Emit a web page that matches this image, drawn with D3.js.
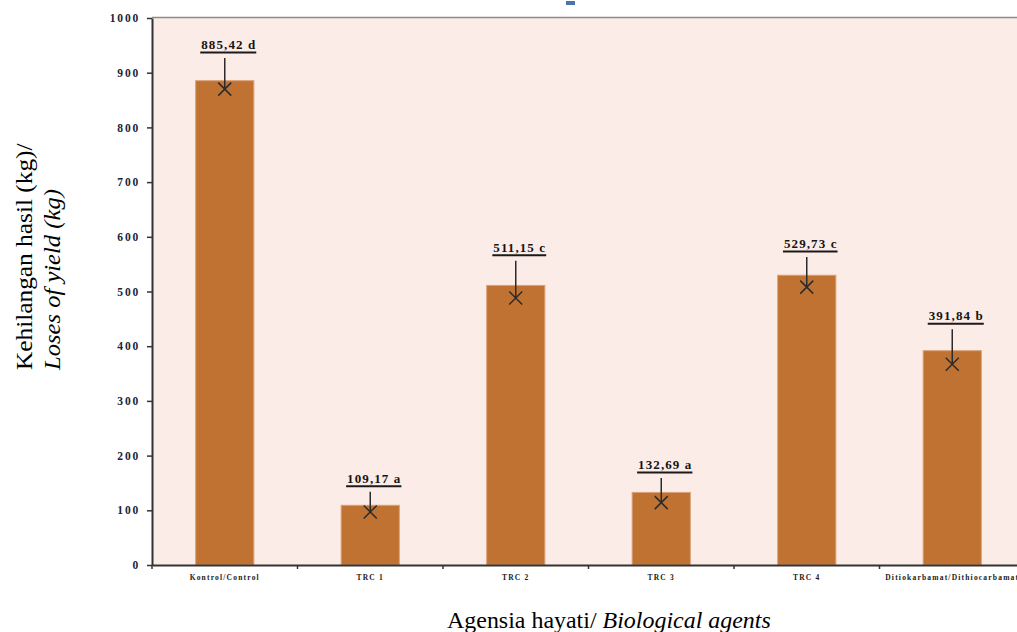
<!DOCTYPE html>
<html>
<head>
<meta charset="utf-8">
<script src="https://cdn.jsdelivr.net/npm/d3@7"></script>
<style>
  body { margin: 0; background: #fff; }
  svg { display: block; }
</style>
</head>
<body>
<svg id="chart" width="1017" height="632"></svg>
<script>
// data
var categories = ['Kontrol/Control', 'TRC 1', 'TRC 2', 'TRC 3', 'TRC 4', 'Ditiokarbamat/Dithiocarbamat']
var means = [885.42, 109.17, 511.15, 132.69, 529.73, 391.84]
var markers = [870, 97, 488, 114, 508, 367]
var errTops = [927, 134, 556, 159, 563, 431]
var letters = ['d', 'a', 'c', 'a', 'c', 'b']
var yTicks = [0, 100, 200, 300, 400, 500, 600, 700, 800, 900, 1000]

var svg = d3.select('#chart')
  , pLeft = 152
  , pRight = 1025
  , pTop = 18
  , pBottom = 565

var x = d3.scaleBand()
  .domain(categories)
  .range([pLeft, pRight])
  .paddingInner(0.6)
  .paddingOuter(0.3)

var y = d3.scaleLinear()
  .domain([0, 1000])
  .range([pBottom, pTop])

var data = categories.map(function (c, i) {
  return { cat: c, mean: means[i], mark: markers[i], top: errTops[i], letter: letters[i] }
})

//plot background
svg.append('rect')
  .attr('x', pLeft).attr('y', pTop)
  .attr('width', pRight - pLeft).attr('height', pBottom - pTop)
  .attr('fill', '#fcece7')

svg.append('line')
  .attr('x1', pLeft).attr('x2', pRight)
  .attr('y1', pTop - 0.5).attr('y2', pTop - 0.5)
  .attr('stroke', '#8a8a8a').attr('stroke-width', 1.5)

//cropped title remnant
svg.append('rect')
  .attr('x', 566).attr('y', 1).attr('width', 9).attr('height', 4)
  .attr('fill', '#4d74a6')

//bars
svg.append('g').selectAll('rect')
  .data(data)
  .enter()
  .append('rect')
  .attr('x', function (d) { return x(d.cat) })
  .attr('y', function (d) { return y(d.mean) })
  .attr('width', x.bandwidth())
  .attr('height', function (d) { return pBottom - y(d.mean) })
  .attr('fill', '#c07232')
  .attr('stroke', '#d9a27a')
  .attr('stroke-width', 1)

//error lines and X markers
var err = svg.append('g').selectAll('g')
  .data(data)
  .enter()
  .append('g')
  .attr('stroke', '#2b2b2b')
  .attr('stroke-width', 1.5)

err.append('line')
  .attr('x1', function (d) { return x(d.cat) + x.bandwidth() / 2 })
  .attr('x2', function (d) { return x(d.cat) + x.bandwidth() / 2 })
  .attr('y1', function (d) { return y(d.top) })
  .attr('y2', function (d) { return y(d.mark) })

err.append('path')
  .attr('d', function (d) {
    var cx = x(d.cat) + x.bandwidth() / 2, cy = y(d.mark), s = 6.5
    return 'M' + (cx - s) + ',' + (cy - s) + 'L' + (cx + s) + ',' + (cy + s) +
      'M' + (cx - s) + ',' + (cy + s) + 'L' + (cx + s) + ',' + (cy - s)
  })
  .attr('fill', 'none')

//value labels, underlined
var lab = svg.append('g').selectAll('g')
  .data(data)
  .enter()
  .append('g')

lab.append('text')
  .attr('x', function (d) { return x(d.cat) + x.bandwidth() / 2 + 4 })
  .attr('y', function (d) { return y(d.top) - 9 })
  .attr('text-anchor', 'middle')
  .attr('font-family', 'Liberation Serif, serif')
  .attr('font-weight', 'bold')
  .attr('font-size', 13)
  .attr('letter-spacing', 1.1)
  .attr('fill', '#141414')
  .text(function (d) { return d3.format('.2f')(d.mean).replace('.', ',') + ' ' + d.letter })
  .each(function (d) {
    var b = this.getBBox()
    d3.select(this.parentNode).append('line')
      .attr('x1', b.x - 1).attr('x2', b.x + b.width)
      .attr('y1', b.y + b.height + 0.5).attr('y2', b.y + b.height + 0.5)
      .attr('stroke', '#1a1a1a').attr('stroke-width', 2)
  })

//y axis
var yAxis = svg.append('g')
  .attr('transform', 'translate(' + pLeft + ',0)')
  .call(d3.axisLeft(y).tickValues(yTicks).tickSize(5).tickSizeOuter(0).tickFormat(d3.format('d')))

yAxis.select('.domain').attr('stroke', '#333').attr('stroke-width', 2)
yAxis.selectAll('.tick line').attr('stroke', '#333').attr('stroke-width', 1.5)
yAxis.selectAll('.tick text')
  .attr('x', -12)
  .attr('font-family', 'Liberation Serif, serif')
  .attr('font-weight', 'bold')
  .attr('font-size', 11.5)
  .attr('letter-spacing', 1.8)
  .attr('fill', '#18243a')

//x axis
var xAxis = svg.append('g')
  .attr('transform', 'translate(0,' + pBottom + ')')
  .call(d3.axisBottom(x).tickSize(0).tickSizeOuter(0))

xAxis.select('.domain').attr('stroke', '#333').attr('stroke-width', 2)
xAxis.selectAll('.tick text')
  .attr('y', 10)
  .attr('font-family', 'Liberation Serif, serif')
  .attr('font-weight', 'bold')
  .attr('font-size', 7.5)
  .attr('letter-spacing', 1.2)
  .attr('fill', '#1a1a1a')

var step = x.step()
xAxis.selectAll('.sep')
  .data(d3.range(categories.length + 1))
  .enter()
  .append('line')
  .attr('x1', function (i) { return pLeft + i * step })
  .attr('x2', function (i) { return pLeft + i * step })
  .attr('y1', 0).attr('y2', 4)
  .attr('stroke', '#333').attr('stroke-width', 1.5)

//axis titles, stretched to the reference widths
function fit (sel, tx, ty, rot, len) {
  var w = sel.node().getBBox().width
  sel.attr('transform', 'translate(' + tx + ',' + ty + ') rotate(' + rot + ') scale(' + (len / w) + ',1)')
}

var yt1 = svg.append('text')
  .attr('font-family', 'Liberation Serif, serif')
  .attr('font-size', 24)
  .attr('fill', '#000')
  .text('Kehilangan hasil (kg)/')
fit(yt1, 32, 370, -90, 227)

var yt2 = svg.append('text')
  .attr('font-family', 'Liberation Serif, serif')
  .attr('font-size', 24)
  .attr('font-style', 'italic')
  .attr('fill', '#000')
  .text('Loses of yield (kg)')
fit(yt2, 60, 370, -90, 182)

var xt = svg.append('text')
  .attr('font-family', 'Liberation Serif, serif')
  .attr('font-size', 23)
  .attr('fill', '#000')
xt.append('tspan').text('Agensia hayati/ ')
xt.append('tspan').attr('font-style', 'italic').text('Biological agents')
fit(xt, 447, 628, 0, 324)
</script>
</body>
</html>
